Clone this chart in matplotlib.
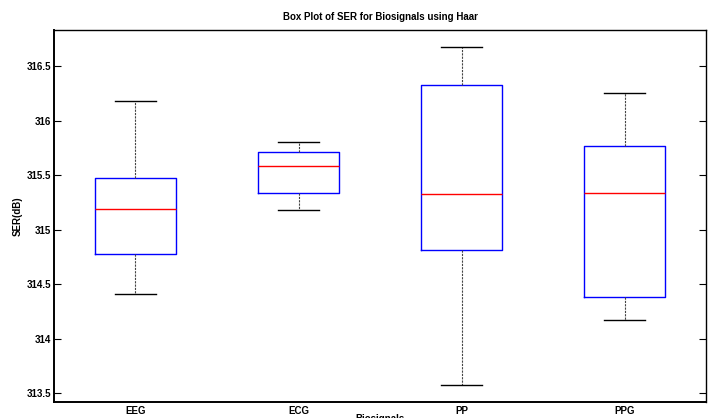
import matplotlib
matplotlib.use("Agg")
import matplotlib.pyplot as plt

plt.rcParams["font.family"] = ["Liberation Sans", "DejaVu Sans"]

# values
signals = ["EEG", "ECG", "PP", "PPG"]
whisker_low = [314.41, 315.18, 313.58, 314.17]
q1 = [314.78, 315.34, 314.81, 314.38]
medians = [315.19, 315.58, 315.33, 315.34]
q3 = [315.47, 315.71, 316.33, 315.77]
whisker_high = [316.18, 315.80, 316.67, 316.25]
yticks = [313.5, 314, 314.5, 315, 315.5, 316, 316.5]
ytick_labels = ["313.5", "314", "314.5", "315", "315.5", "316", "316.5"]

stats = []
for name, lo, a, m, b, hi in zip(signals, whisker_low, q1, medians, q3, whisker_high):
    stats.append({"label": name, "whislo": lo, "q1": a, "med": m,
                  "q3": b, "whishi": hi, "fliers": []})

fig = plt.figure(figsize=(7.15, 4.18), dpi=100)
ax = fig.add_axes([0.0755, 0.0376, 0.912, 0.8906])

ax.bxp(stats, positions=[1, 2, 3, 4], widths=0.5, showfliers=False,
       boxprops=dict(color="#0000ff", linewidth=1.0),
       medianprops=dict(color="#ff0000", linewidth=1.0),
       whiskerprops=dict(color="#444444", linewidth=0.8, linestyle=(0, (2, 1))),
       capprops=dict(color="black", linewidth=1.0),
       capwidths=0.25)

ax.set_xlim(0.5, 4.5)
ax.set_ylim(313.418, 316.83)
ax.set_yticks(yticks)
ax.set_yticklabels(ytick_labels, fontsize=7, fontweight="bold")
ax.set_xticks([1, 2, 3, 4])
ax.set_xticklabels(signals, fontsize=7, fontweight="bold")
ax.tick_params(axis="y", direction="in", length=5, width=0.8, right=True, pad=2)
ax.tick_params(axis="x", length=0, pad=3)

for side in ["left", "bottom"]:
    ax.spines[side].set_linewidth(1.4)
for side in ["top", "right"]:
    ax.spines[side].set_linewidth(1.0)

ax.set_title("Box Plot of SER for Biosignals using Haar", fontsize=7,
             fontweight="bold", pad=7)
ax.set_ylabel("SER(dB)", fontsize=7, fontweight="bold", labelpad=3)
ax.set_xlabel("Biosignals", fontsize=7, fontweight="bold", labelpad=-2)

fig.savefig("out.png", dpi=100)
